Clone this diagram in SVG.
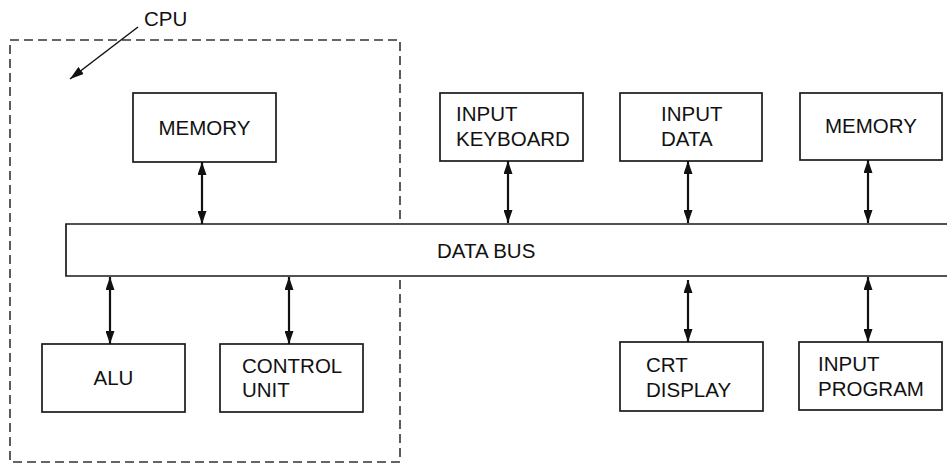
<svg xmlns="http://www.w3.org/2000/svg" width="947" height="464" viewBox="0 0 947 464">
  <style>
    .box { fill: #fff; stroke: #1a1a1a; stroke-width: 1.7; }
    .lbl { font-family: "Liberation Sans", Arial, sans-serif; font-size: 20.5px; fill: #111; }
    .conn { stroke: #111; stroke-width: 2.2; fill: none; marker-start: url(#ah); marker-end: url(#ah); }
  </style>
  <defs>
    <marker id="ah" viewBox="0 0 13 9" refX="13" refY="4.5" markerWidth="13" markerHeight="9" markerUnits="userSpaceOnUse" orient="auto-start-reverse">
      <path d="M0,0 L13,4.5 L0,9 z" fill="#111"/>
    </marker>
    <marker id="ah1" viewBox="0 0 14 9" refX="14" refY="4.5" markerWidth="14" markerHeight="9" markerUnits="userSpaceOnUse" orient="auto">
      <path d="M0,0 L14,4.5 L0,9 z" fill="#111"/>
    </marker>
  </defs>
  <rect width="947" height="464" fill="#fff"/>

  <g id="cpu">
    <rect x="10" y="40" width="390" height="422" fill="none" stroke="#333" stroke-width="1.6" stroke-dasharray="9 5"/>
    <text class="lbl" x="144" y="26">CPU</text>
    <line x1="138" y1="27" x2="70" y2="79" stroke="#111" stroke-width="1.5" marker-end="url(#ah1)"/>
  </g>

  <g id="databus">
    <path d="M947,224 H66 V276 H947" fill="#fff" stroke="#1a1a1a" stroke-width="1.7"/>
    <text class="lbl" x="437" y="258">DATA BUS</text>
  </g>

  <g id="cpu-memory">
    <rect class="box" x="133" y="93" width="143" height="69"/>
    <text class="lbl" x="204.5" y="135" text-anchor="middle">MEMORY</text>
  </g>
  <g id="alu">
    <rect class="box" x="42" y="344" width="143" height="68"/>
    <text class="lbl" x="113.5" y="385" text-anchor="middle">ALU</text>
  </g>
  <g id="control-unit">
    <rect class="box" x="220" y="344" width="143" height="68"/>
    <text class="lbl" x="242" y="373">CONTROL</text>
    <text class="lbl" x="242" y="397">UNIT</text>
  </g>
  <g id="input-keyboard">
    <rect class="box" x="440" y="93" width="143" height="68"/>
    <text class="lbl" x="456" y="121">INPUT</text>
    <text class="lbl" x="456" y="146">KEYBOARD</text>
  </g>
  <g id="input-data">
    <rect class="box" x="620" y="93" width="142" height="68"/>
    <text class="lbl" x="661" y="121">INPUT</text>
    <text class="lbl" x="661" y="146">DATA</text>
  </g>
  <g id="memory">
    <rect class="box" x="800" y="93" width="142" height="67"/>
    <text class="lbl" x="825" y="133">MEMORY</text>
  </g>
  <g id="crt-display">
    <rect class="box" x="620" y="342" width="143" height="69"/>
    <text class="lbl" x="646" y="372">CRT</text>
    <text class="lbl" x="646" y="397">DISPLAY</text>
  </g>
  <g id="input-program">
    <rect class="box" x="799" y="342" width="143" height="68"/>
    <text class="lbl" x="818" y="371">INPUT</text>
    <text class="lbl" x="818" y="396">PROGRAM</text>
  </g>

  <g id="connectors">
    <line class="conn" x1="202" y1="162" x2="202" y2="224"/>
    <line class="conn" x1="110" y1="277" x2="110" y2="344"/>
    <line class="conn" x1="289" y1="277" x2="289" y2="344"/>
    <line class="conn" x1="508" y1="161" x2="508" y2="223"/>
    <line class="conn" x1="688" y1="161" x2="688" y2="223"/>
    <line class="conn" x1="868" y1="160" x2="868" y2="223"/>
    <line class="conn" x1="688" y1="280" x2="688" y2="342"/>
    <line class="conn" x1="868" y1="277" x2="868" y2="342"/>
  </g>
</svg>
